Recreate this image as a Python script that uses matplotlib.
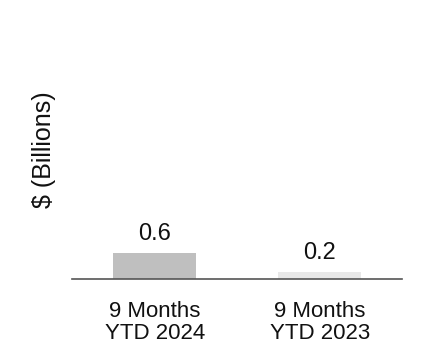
import matplotlib
matplotlib.use("Agg")
import matplotlib.pyplot as plt

categories = ["9 Months\nYTD 2024", "9 Months\nYTD 2023"]
values = [0.6, 0.16]
bar_colors = ["#bfbfbf", "#e8e8e8"]
ylabel = "$ (Billions)"

plt.rcParams['font.family'] = ['Liberation Sans', 'DejaVu Sans']

fig = plt.figure(figsize=(4.22, 3.64), dpi=100)
ax = fig.add_axes([0.171, 0.2335, 0.782, 0.62])
x = list(range(len(categories)))
bars = ax.bar(x, values, width=0.5, color=bar_colors)
ax.set_xlim(-0.5, 1.5)
ax.set_ylim(0, 5.15)
for xi, v in zip(x, values):
    ax.annotate(f"{v:.1f}", (xi, v), xytext=(0, 9.4), textcoords="offset points",
                ha="center", va="baseline", fontsize=17, color="#111111")
ax.set_xticks(x)
ax.set_xticklabels(categories, fontsize=16, linespacing=1.1, color="#111111")
ax.tick_params(axis="x", length=0, pad=15.5)
ax.set_yticks([])
for s in ["top", "right", "left"]:
    ax.spines[s].set_visible(False)
ax.spines["bottom"].set_color("#555555")
ax.spines["bottom"].set_linewidth(1.2)
ax.set_ylabel(ylabel, fontsize=18, color="#111111")
ax.yaxis.set_label_coords(-0.05, 0.575)
fig.savefig("out.png", dpi=100, facecolor="white")
